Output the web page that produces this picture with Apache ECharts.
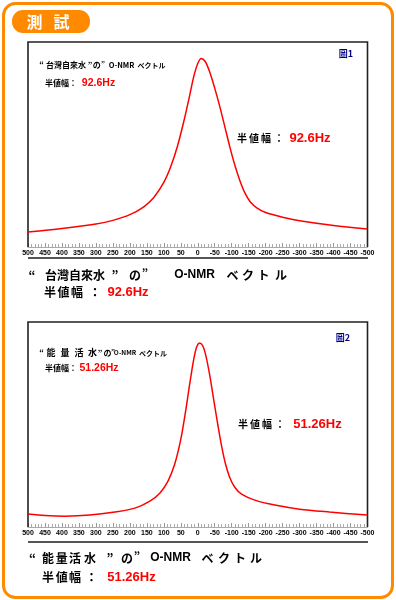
<!DOCTYPE html>
<html><head><meta charset="utf-8">
<script src="https://cdn.jsdelivr.net/npm/echarts@6/dist/echarts.min.js"></script>
<style>html,body{margin:0;padding:0;background:#fff}#c{width:396px;height:600px}</style>
</head><body><div id="c"></div>
<script>
// ---- data ----
const shiftMin = -500, shiftMax = 500, shiftStep = 50;
// spectrum 1: 台灣自來水
const shift1 = [500, 400, 300, 250, 200, 160, 130, 100, 80, 60, 40, 25, 12, 0, -10, -22, -35, -50, -65, -80, -95, -110, -125, -140, -155, -175, -200, -250, -300, -400, -500];
const inten1 = [7.3, 9.0, 11.2, 13.0, 15.8, 19.5, 24.0, 31.5, 39.0, 49.0, 62.0, 73.0, 83.0, 89.5, 92.0, 90.5, 85.5, 77.5, 68.5, 58.5, 48.5, 39.5, 32.0, 26.0, 22.0, 19.0, 16.8, 14.5, 12.8, 10.5, 8.8];
// spectrum 2: 能量活水
const shift2 = [500, 450, 391, 318, 244, 185, 141, 112, 88, 68, 50, 35, 24, 12, 3, -6, -15, -24, -35, -47, -59, -71, -82, -94, -109, -129, -168, -227, -300, -388, -500];
const inten2 = [6.3, 5.6, 5.3, 5.8, 7.3, 9.2, 12.6, 16.5, 22.3, 30.6, 42.7, 57.3, 69.4, 81.6, 87.9, 89.8, 88.3, 83.5, 74.3, 62.1, 50.0, 38.8, 30.6, 24.3, 19.4, 16.0, 13.1, 10.7, 8.7, 7.3, 5.8];
const halfWidth1 = '92.6Hz', halfWidth2 = '51.26Hz';

const ORANGE = '#FF8A00';
const CJK = '"Noto Sans CJK JP", sans-serif';
const LAT = '"Liberation Sans", Arial, sans-serif';

function T(x, y, text, size, color, family, align) {
  return { type: 'text', z: 10, style: { x: x, y: y, text: text, fill: color || '#000',
    font: 'bold ' + size + 'px ' + (family || CJK), textAlign: align || 'center', textVerticalAlign: 'middle' } };
}
function L(pts, color, w) {
  return { type: 'polyline', z: 5, shape: { points: pts }, style: { stroke: color, lineWidth: w, fill: null } };
}

const g = [];
// outer frame + tab
g.push({ type: 'rect', z: 1, shape: { x: 3.5, y: 3.5, width: 389, height: 594, r: 12 }, style: { stroke: ORANGE, lineWidth: 3, fill: null } });
g.push({ type: 'rect', z: 2, shape: { x: 12, y: 10, width: 78, height: 23, r: 11 }, style: { fill: ORANGE } });
g.push(T(34.5, 21.5, '測', 16, '#fff'));
g.push(T(61.5, 21.5, '試', 16, '#fff'));

// chart boxes
[[42, 247, 258], [322, 527, 542]].forEach(function (b) {
  g.push(L([[28, b[1]], [28, b[0]], [367.5, b[0]], [367.5, b[1]]], '#222', 1.6));
  g.push(L([[28, b[2]], [368, b[2]]], '#555', 2));
});
g.push(T(346, 54, '圖1', 9, '#000080'));
g.push(T(343, 338, '圖2', 9, '#000080'));

// chart 1 inner labels
g.push(T(41.5, 65, '“', 8));
g.push(T(66, 65, '台灣自來水', 8));
g.push(T(90, 65, '”', 8));
g.push(T(96.7, 65, 'の', 8));
g.push(T(103, 63, '”', 7));
g.push(T(121.5, 65, 'O-NMR', 7.5));
g.push(T(151.5, 65, 'ベクトル', 7));
g.push(T(61, 83, '半値幅：', 8));
g.push(T(98.5, 83, halfWidth1, 10.5, '#FF0000', LAT));
// chart 1 right label
g.push(T(242, 138, '半', 10)); g.push(T(254, 138, '値', 10)); g.push(T(266, 138, '幅', 10)); g.push(T(279, 138, '：', 10));
g.push(T(310, 138, halfWidth1, 13, '#FF0000', LAT));

// chart 2 inner labels
g.push(T(41.5, 353, '“', 8));
g.push(T(51, 353, '能', 9)); g.push(T(65, 353, '量', 9)); g.push(T(79, 353, '活', 9)); g.push(T(92.5, 353, '水', 9));
g.push(T(100, 353, '”', 8));
g.push(T(107.5, 353, 'の', 8));
g.push(T(113, 351, '”', 7));
g.push(T(125, 353, 'O-NMR', 6.5));
g.push(T(153, 353, 'ベクトル', 7));
g.push(T(61, 368, '半値幅：', 8));
g.push(T(99, 368, halfWidth2, 10.5, '#FF0000', LAT));
// chart 2 right label
g.push(T(243, 424, '半', 10)); g.push(T(255, 424, '値', 10)); g.push(T(267, 424, '幅', 10)); g.push(T(280, 424, '：', 10));
g.push(T(317.5, 424, halfWidth2, 13, '#FF0000', LAT));

// caption 1
g.push(T(32, 275, '“', 12));
g.push(T(75, 275, '台灣自來水', 12));
g.push(T(115, 275, '”', 12));
g.push(T(135, 275, 'の', 12));
g.push(T(145, 273, '”', 11));
g.push(T(194.5, 275, 'O-NMR', 12, '#000', LAT));
g.push(T(232.5, 275, 'ベ', 12)); g.push(T(248, 275, 'ク', 12)); g.push(T(263.5, 275, 'ト', 12)); g.push(T(281, 275, 'ル', 12));
g.push(T(50, 292, '半', 12)); g.push(T(63.5, 292, '値', 12)); g.push(T(77, 292, '幅', 12)); g.push(T(95, 292, '：', 12));
g.push(T(128, 292, halfWidth1, 13, '#FF0000', LAT));

// caption 2
g.push(T(32.5, 558, '“', 12));
g.push(T(48, 558, '能', 12)); g.push(T(61.7, 558, '量', 12)); g.push(T(75, 558, '活', 12)); g.push(T(90, 558, '水', 12));
g.push(T(110, 558, '”', 12));
g.push(T(127, 558, 'の', 12));
g.push(T(137, 556, '”', 11));
g.push(T(170.5, 558, 'O-NMR', 12, '#000', LAT));
g.push(T(207.5, 558, 'ベ', 12)); g.push(T(224, 558, 'ク', 12)); g.push(T(240, 558, 'ト', 12)); g.push(T(256, 558, 'ル', 12));
g.push(T(48, 577, '半', 12)); g.push(T(61.7, 577, '値', 12)); g.push(T(75, 577, '幅', 12)); g.push(T(91.5, 577, '：', 12));
g.push(T(131.5, 577, halfWidth2, 13, '#FF0000', LAT));

function xAx(gi) {
  return { type: 'value', gridIndex: gi, min: shiftMin, max: shiftMax, interval: shiftStep, inverse: true,
    axisLine: { show: true, onZero: false, lineStyle: { color: '#aaa', width: 1 } },
    axisTick: { show: true, inside: true, length: 4, lineStyle: { color: '#999' } },
    minorTick: { show: true, splitNumber: 5, length: 3, lineStyle: { color: '#aaa' } },
    splitLine: { show: false },
    axisLabel: { show: true, margin: 3, fontSize: 7, color: '#000', fontFamily: LAT, fontWeight: 'bold', hideOverlap: false }
  };
}
function yAx(gi) { return { type: 'value', gridIndex: gi, min: 0, max: 100, show: false }; }

const chart = echarts.init(document.getElementById('c'), null, { renderer: 'canvas' });
chart.setOption({
  animation: false,
  backgroundColor: '#fff',
  grid: [
    { left: 28, right: 28.5, top: 42, height: 205 },
    { left: 28, right: 28.5, top: 322, height: 205 }
  ],
  xAxis: [xAx(0), xAx(1)],
  yAxis: [yAx(0), yAx(1)],
  series: [
    { type: 'line', xAxisIndex: 0, yAxisIndex: 0, data: shift1.map((v, i) => [v, inten1[i]]),
      showSymbol: false, smooth: 0.3, lineStyle: { color: '#FF0000', width: 1.5 }, z: 6 },
    { type: 'line', xAxisIndex: 1, yAxisIndex: 1, data: shift2.map((v, i) => [v, inten2[i]]),
      showSymbol: false, smooth: 0.3, lineStyle: { color: '#FF0000', width: 1.5 }, z: 6 }
  ],
  graphic: g
});
</script>
</body></html>
